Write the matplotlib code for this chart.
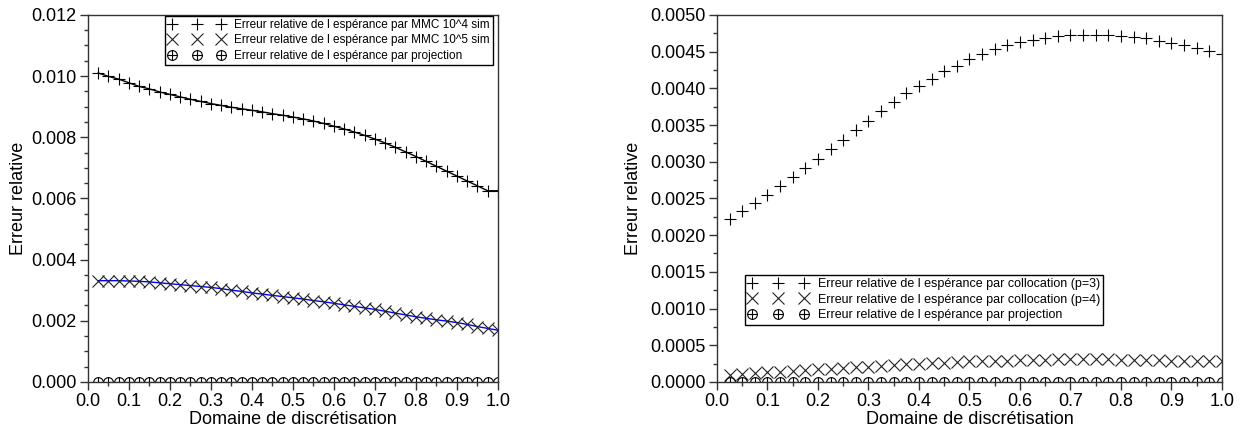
import numpy as np
import matplotlib.pyplot as plt
from matplotlib.ticker import MultipleLocator, FormatStrFormatter

plt.rcParams['font.family'] = ['Liberation Sans', 'DejaVu Sans']

# discretisation points (40 points, step 0.025)
x = [0.025 * k for k in range(1, 41)]

# left panel: Monte Carlo errors
err_mmc4 = [0.01010, 0.00999, 0.00990, 0.00978, 0.00966, 0.00958, 0.00948, 0.00940,
            0.00932, 0.00924, 0.00917, 0.00910, 0.00904, 0.00898, 0.00893, 0.00888,
            0.00883, 0.00877, 0.00872, 0.00866, 0.00860, 0.00853, 0.00845, 0.00836,
            0.00827, 0.00817, 0.00806, 0.00794, 0.00781, 0.00767, 0.00752, 0.00737,
            0.00721, 0.00705, 0.00689, 0.00673, 0.00657, 0.00641, 0.00625, 0.00625]
err_mmc5 = [0.00331, 0.00331, 0.00331, 0.00330, 0.00329, 0.00327, 0.00324, 0.00321,
            0.00318, 0.00315, 0.00312, 0.00309, 0.00305, 0.00300, 0.00296, 0.00291,
            0.00287, 0.00283, 0.00279, 0.00275, 0.00271, 0.00266, 0.00262, 0.00257,
            0.00252, 0.00247, 0.00242, 0.00237, 0.00231, 0.00225, 0.00219, 0.00213,
            0.00208, 0.00203, 0.00199, 0.00194, 0.00188, 0.00181, 0.00175, 0.00169]
err_proj = [0.0] * 40

# right panel: collocation errors
err_coll3 = [0.00222, 0.00233, 0.00244, 0.00255, 0.00267, 0.00279, 0.00291, 0.00304,
             0.00317, 0.00330, 0.00343, 0.00356, 0.00369, 0.00381, 0.00393, 0.00403,
             0.00413, 0.00423, 0.00431, 0.00440, 0.00447, 0.00454, 0.00459, 0.00463,
             0.00466, 0.00469, 0.00471, 0.00472, 0.00473, 0.00473, 0.00473, 0.00471,
             0.00470, 0.00468, 0.00465, 0.00462, 0.00459, 0.00455, 0.00451, 0.00447]
err_coll4 = [0.00010, 0.00011, 0.00012, 0.00013, 0.00014, 0.00015, 0.00016, 0.00017,
             0.00018, 0.00019, 0.00020, 0.00021, 0.00022, 0.00023, 0.00024, 0.00025,
             0.00026, 0.00026, 0.00027, 0.00028, 0.00028, 0.00029, 0.00029, 0.00030,
             0.00030, 0.00030, 0.00031, 0.00031, 0.00031, 0.00031, 0.00031, 0.00030,
             0.00030, 0.00030, 0.00030, 0.00029, 0.00029, 0.00029, 0.00028, 0.00028]

labels_left = ["Erreur relative de l espérance par MMC 10^4 sim",
               "Erreur relative de l espérance par MMC 10^5 sim",
               "Erreur relative de l espérance par projection"]
labels_right = ["Erreur relative de l espérance par collocation (p=3)",
                "Erreur relative de l espérance par collocation (p=4)",
                "Erreur relative de l espérance par projection"]


def oplus(ax, xs, ys):
    # circle with a cross inside
    c = ax.plot(xs, ys, 'o', ms=7, mfc='none', mec='black', mew=0.8, ls='none')[0]
    p = ax.plot(xs, ys, '+', ms=7, color='black', mew=0.8, ls='none')[0]
    return (c, p)


def style(ax, ymax, major, minor, fmt):
    ax.set_xlim(0, 1)
    ax.set_ylim(0, ymax)
    ax.xaxis.set_major_locator(MultipleLocator(0.1))
    ax.xaxis.set_minor_locator(MultipleLocator(0.05))
    ax.yaxis.set_major_locator(MultipleLocator(major))
    ax.yaxis.set_minor_locator(MultipleLocator(minor))
    ax.xaxis.set_major_formatter(FormatStrFormatter('%.1f'))
    ax.yaxis.set_major_formatter(FormatStrFormatter(fmt))
    ax.tick_params(which='major', direction='out', length=6, width=1, labelsize=13,
                   color='#333333', pad=2)
    ax.tick_params(which='minor', direction='out', length=3, width=1, color='#333333')
    for s in ax.spines.values():
        s.set_color('#333333')
        s.set_linewidth(1)
    ax.set_xlabel("Domaine de discrétisation", fontsize=13, labelpad=1)
    ax.set_ylabel("Erreur relative", fontsize=13, labelpad=6)


def legend(ax, handles, labels, anchor, loc, size):
    leg = ax.legend(handles, labels, loc=loc, bbox_to_anchor=anchor, numpoints=3,
                    fontsize=size, handlelength=4.8, handletextpad=0.8, labelspacing=0.3,
                    borderpad=0.25, borderaxespad=0, fancybox=False, framealpha=1)
    leg.get_frame().set_edgecolor('black')
    leg.get_frame().set_linewidth(1)
    return leg


fig = plt.figure(figsize=(12.53, 4.38), dpi=100)
ax1 = fig.add_axes([0.0702, 0.128, 0.3272, 0.838])
ax2 = fig.add_axes([0.5722, 0.128, 0.4030, 0.838])

# left panel
ax1.plot(x, err_mmc4, '-', color='black', lw=1)
h1 = ax1.plot(x, err_mmc4, '+', ms=9, color='black', mew=0.8, ls='none')[0]
ax1.plot(x, err_mmc5, '-', color='blue', lw=1)
h2 = ax1.plot(x, err_mmc5, 'x', ms=8, color='#222222', mew=0.8, ls='none')[0]
h3 = oplus(ax1, x, err_proj)
style(ax1, 0.012, 0.002, 0.0005, '%.3f')
ax1.yaxis.labelpad = 3
legend(ax1, [h1, h2, h3], labels_left, (0.988, 0.997), 'upper right', 8.5)

# right panel
g1 = ax2.plot(x, err_coll3, '+', ms=9, color='black', mew=0.8, ls='none')[0]
g2 = ax2.plot(x, err_coll4, 'x', ms=9, color='#222222', mew=0.8, ls='none')[0]
g3 = oplus(ax2, x, err_proj)
style(ax2, 0.005, 0.0005, 0.00025, '%.4f')
legend(ax2, [g1, g2, g3], labels_right, (0.055, 0.292), 'upper left', 9)

fig.savefig("out.png", dpi=100)
